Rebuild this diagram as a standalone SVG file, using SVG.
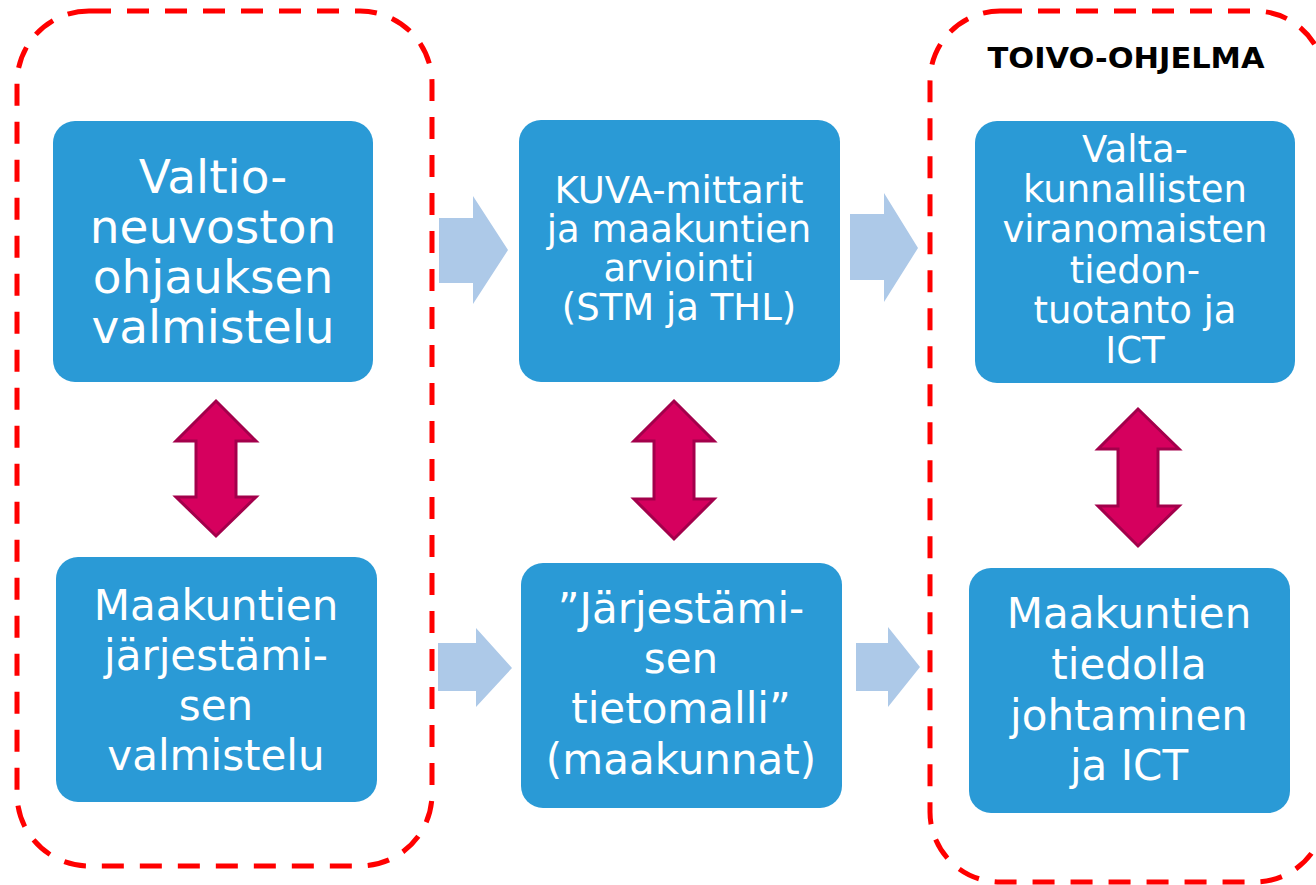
<svg xmlns="http://www.w3.org/2000/svg" width="1316" height="885" viewBox="0 0 1316 885">
  <style>
    .frame { fill: none; stroke: #FF0000; stroke-width: 5; stroke-dasharray: 22 16; }
    .box { fill: #2A9AD6; }
    .t { fill: #FFFFFF; font-family: "DejaVu Sans", Verdana, sans-serif; text-anchor: middle; }
    .flow { fill: #ADC9E8; }
    .dbl { fill: #D6005E; stroke: #A3004B; stroke-width: 3; stroke-linejoin: miter; }
    .title { fill: #000000; font-family: "DejaVu Sans", Verdana, sans-serif; font-weight: bold; text-anchor: middle; }
  </style>
  <rect width="1316" height="885" fill="#FFFFFF"/>

  <g id="group-left">
    <rect class="frame" x="17" y="11" width="415" height="855" rx="72" ry="72"/>
  </g>
  <g id="group-toivo">
    <rect class="frame" x="930" y="11" width="395" height="871" rx="70" ry="70"/>
    <text class="title" x="1126" y="68" font-size="28" textLength="277" lengthAdjust="spacingAndGlyphs">TOIVO-OHJELMA</text>
  </g>

  <g id="connectors">
    <path class="flow" d="M439,218 L473,218 L473,196 L508,250 L473,304 L473,283 L439,283 Z"/>
    <path class="flow" d="M850,214 L884,214 L884,193 L918,248 L884,302 L884,280 L850,280 Z"/>
    <path class="flow" d="M438,643 L476,643 L476,628 L512,668 L476,707 L476,691 L438,691 Z"/>
    <path class="flow" d="M856,643 L888,643 L888,627 L920,667 L888,707 L888,691 L856,691 Z"/>
    <path class="dbl" d="M216,401 L256,441 L236,441 L236,497 L256,497 L216,536 L176,497 L196,497 L196,441 L176,441 Z"/>
    <path class="dbl" d="M674,401 L714,441 L694,441 L694,499 L714,499 L674,539 L634,499 L654,499 L654,441 L634,441 Z"/>
    <path class="dbl" d="M1138,409 L1179,449 L1158,449 L1158,506 L1179,506 L1138,546 L1098,506 L1118,506 L1118,449 L1098,449 Z"/>
  </g>

  <g id="node-valtioneuvosto">
    <rect class="box" x="53" y="121" width="320" height="261" rx="22" ry="22"/>
    <g class="t" font-size="47">
      <text x="213" y="193">Valtio-</text>
      <text x="213" y="243">neuvoston</text>
      <text x="213" y="293">ohjauksen</text>
      <text x="213" y="343">valmistelu</text>
    </g>
  </g>

  <g id="node-maakuntien-jarjestaminen">
    <rect class="box" x="56" y="557" width="321" height="245" rx="22" ry="22"/>
    <g class="t" font-size="42">
      <text x="216" y="620">Maakuntien</text>
      <text x="216" y="670">järjestämi-</text>
      <text x="216" y="720">sen</text>
      <text x="216" y="770">valmistelu</text>
    </g>
  </g>

  <g id="node-kuva">
    <rect class="box" x="519" y="120" width="321" height="262" rx="22" ry="22"/>
    <g class="t" font-size="37">
      <text x="679" y="203">KUVA-mittarit</text>
      <text x="679" y="242">ja maakuntien</text>
      <text x="679" y="281">arviointi</text>
      <text x="679" y="320">(STM ja THL)</text>
    </g>
  </g>

  <g id="node-tietomalli">
    <rect class="box" x="521" y="563" width="321" height="245" rx="22" ry="22"/>
    <g class="t" font-size="42">
      <text x="681" y="623">”Järjestämi-</text>
      <text x="681" y="673">sen</text>
      <text x="681" y="723">tietomalli”</text>
      <text x="681" y="774">(maakunnat)</text>
    </g>
  </g>

  <g id="node-valtakunnalliset">
    <rect class="box" x="975" y="121" width="320" height="262" rx="22" ry="22"/>
    <g class="t" font-size="37">
      <text x="1135" y="162">Valta-</text>
      <text x="1135" y="202">kunnallisten</text>
      <text x="1135" y="242">viranomaisten</text>
      <text x="1135" y="283">tiedon-</text>
      <text x="1135" y="323">tuotanto ja</text>
      <text x="1135" y="363">ICT</text>
    </g>
  </g>

  <g id="node-tiedolla-johtaminen">
    <rect class="box" x="969" y="568" width="321" height="245" rx="22" ry="22"/>
    <g class="t" font-size="42">
      <text x="1129" y="628">Maakuntien</text>
      <text x="1129" y="679">tiedolla</text>
      <text x="1129" y="730">johtaminen</text>
      <text x="1129" y="780">ja ICT</text>
    </g>
  </g>
</svg>
